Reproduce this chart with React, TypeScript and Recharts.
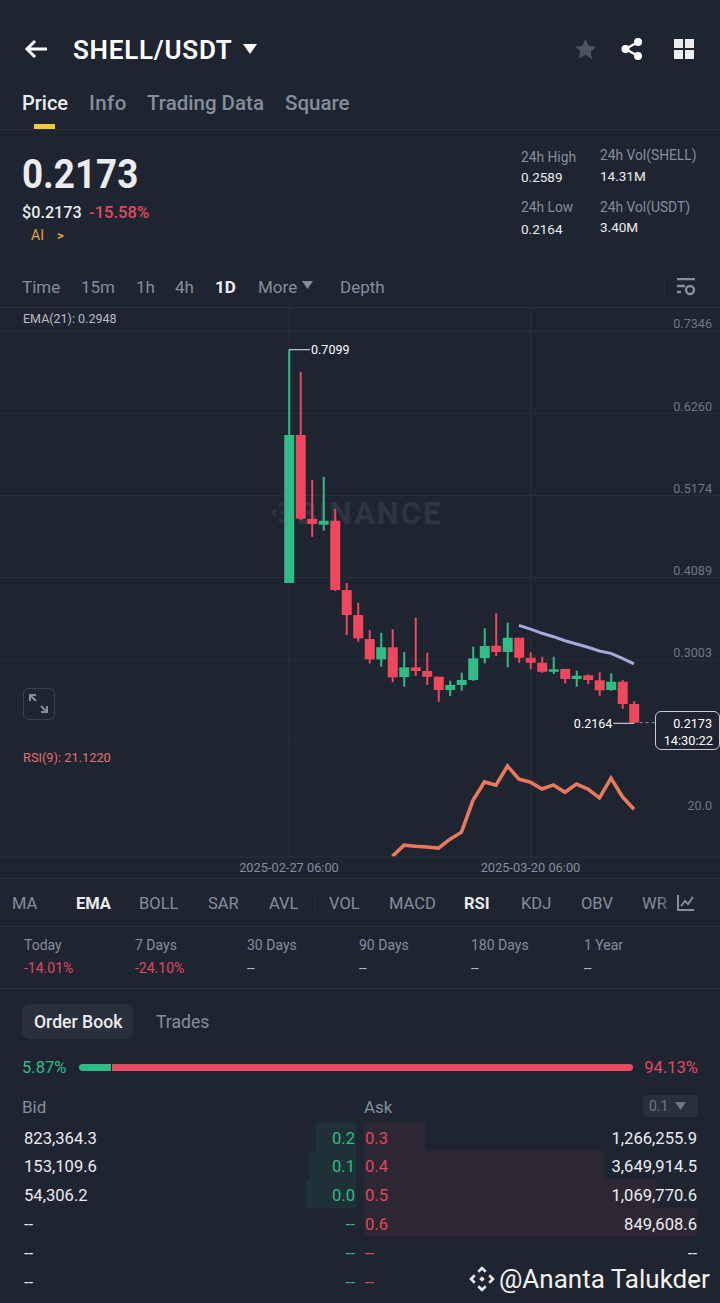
import { Bar, CartesianGrid, Cell, ComposedChart, Line, LineChart, ReferenceLine, XAxis, YAxis } from "recharts";
import type { CSSProperties, ReactNode } from "react";

const dates = [
  "2025-02-27 06:00", "2025-02-28 06:00", "2025-03-01 06:00", "2025-03-02 06:00", "2025-03-03 06:00", "2025-03-04 06:00",
  "2025-03-05 06:00", "2025-03-06 06:00", "2025-03-07 06:00", "2025-03-08 06:00", "2025-03-09 06:00", "2025-03-10 06:00",
  "2025-03-11 06:00", "2025-03-12 06:00", "2025-03-13 06:00", "2025-03-14 06:00", "2025-03-15 06:00", "2025-03-16 06:00",
  "2025-03-17 06:00", "2025-03-18 06:00", "2025-03-19 06:00", "2025-03-20 06:00", "2025-03-21 06:00", "2025-03-22 06:00",
  "2025-03-23 06:00", "2025-03-24 06:00", "2025-03-25 06:00", "2025-03-26 06:00", "2025-03-27 06:00", "2025-03-28 06:00",
  "2025-03-29 06:00",
];
const opens = [
  0.4017, 0.5972, 0.4866, 0.4787, 0.484, 0.3925, 0.3594, 0.3277, 0.3009, 0.3168, 0.2775, 0.2903, 0.2855, 0.2779, 0.2604, 0.267,
  0.2736, 0.3026, 0.3189, 0.3106, 0.3294, 0.303, 0.2964, 0.2845, 0.2881, 0.2749, 0.2798, 0.2732, 0.2604, 0.2713, 0.2419,
];
const highs = [
  0.7099, 0.6808, 0.5378, 0.5421, 0.4995, 0.4017, 0.3757, 0.3396, 0.3361, 0.3405, 0.3106, 0.3559, 0.3096, 0.2779, 0.2726, 0.2832,
  0.3176, 0.3419, 0.3617, 0.3493, 0.3294, 0.3102, 0.3043, 0.3043, 0.2881, 0.2859, 0.2811, 0.2837, 0.2824, 0.2736, 0.2458,
];
const lows = [
  0.4017, 0.4849, 0.4625, 0.4708, 0.3911, 0.333, 0.3242, 0.2956, 0.2911, 0.2705, 0.2647, 0.2789, 0.267, 0.2449, 0.2524, 0.2594,
  0.2726, 0.2956, 0.3053, 0.2903, 0.2964, 0.2877, 0.2832, 0.2815, 0.2692, 0.2647, 0.2683, 0.2528, 0.2594, 0.2357, 0.2164,
];
const closes = [
  0.5972, 0.4866, 0.4796, 0.484, 0.3925, 0.3594, 0.3287, 0.3009, 0.3168, 0.2771, 0.2903, 0.2855, 0.2779, 0.2604, 0.267, 0.2736,
  0.3022, 0.3185, 0.3106, 0.3294, 0.303, 0.2964, 0.2845, 0.2877, 0.2749, 0.2792, 0.2736, 0.26, 0.2713, 0.2419, 0.2173,
];
// EMA only shows on the last candles
const emaValues = [0.3458, 0.3409, 0.3353, 0.3308, 0.3255, 0.3211, 0.3168, 0.3119, 0.3088, 0.3022, 0.2948];
const emaStart = 20;
const rsiValues = [
  3.7, 7.8, 7.4, 7.1, 6.7, 10, 12.6, 24.4, 31.2, 30, 37.1, 32.2, 31.1, 28.6, 30.1, 27.4, 30.4, 28.6, 25.3, 32.6, 25.7, 21.12,
];
const rsiStart = 9;

const priceTicks = [0.7346, 0.626, 0.5174, 0.4089, 0.3003];
const priceGrid = [0.7346, 0.626, 0.5174, 0.4089, 0.3003, 0.1917];
const dateTicks = [0, 21];
const rsiTicks = [20];

const bidQty = ["823,364.3", "153,109.6", "54,306.2", "--", "--", "--"];
const bidPrice = ["0.2", "0.1", "0.0", "--", "--", "--"];
const askPrice = ["0.3", "0.4", "0.5", "0.6", "--", "--"];
const askQty = ["1,266,255.9", "3,649,914.5", "1,069,770.6", "849,608.6", "--", "--"];
const bidDepth = [40, 47, 50];
const askDepth = [61, 240, 292, 333];
const perfLabels = ["Today", "7 Days", "30 Days", "90 Days", "180 Days", "1 Year"];
const perfValues = ["-14.01%", "-24.10%", "--", "--", "--", "--"];
const indicators = ["MA", "EMA", "BOLL", "SAR", "AVL", "VOL", "MACD", "RSI", "KDJ", "OBV", "WR"];
const indicatorX = [12, 76, 139, 208, 269, 329, 389, 464, 521, 581, 642];
const intervals = ["Time", "15m", "1h", "4h", "1D", "More"];
const intervalX = [22, 81, 136, 175, 215, 258];

const BG = "#1e2530";
const GREEN = "#2ebd85";
const RED = "#f0475f";
const GRAY = "#848e9c";
const WHITE = "#eaecef";
const LINE = "#2a303a";
const FONT = "Roboto, sans-serif";
const xDomain: [number, number] = [-25.13, 37.48];

const candles = dates.map((date, i) => ({
  i,
  date,
  wick: [lows[i], highs[i]],
  body: [Math.min(opens[i], closes[i]), Math.max(opens[i], closes[i])],
  up: closes[i] >= opens[i],
  ema: i >= emaStart ? emaValues[i - emaStart] : null,
}));
const rsiData = dates.map((date, i) => ({
  i,
  rsi: i >= rsiStart ? rsiValues[i - rsiStart] : null,
}));

const T = ({ x, y, size = 14, color = GRAY, weight = 400, right, style, children }: {
  x?: number; y: number; size?: number; color?: string; weight?: number; right?: number; style?: CSSProperties; children: ReactNode;
}) => (
  <div
    style={{
      position: "absolute",
      left: x,
      right: right !== undefined ? 720 - right : undefined,
      top: y,
      transform: "translateY(-50%)",
      fontSize: size,
      color,
      fontWeight: weight,
      whiteSpace: "nowrap",
      lineHeight: 1,
      ...style,
    }}
  >
    {children}
  </div>
);

const Box = ({ x, y, w, h, color, style }: { x: number; y: number; w: number; h: number; color?: string; style?: CSSProperties }) => (
  <div style={{ position: "absolute", left: x, top: y, width: w, height: h, background: color, ...style }} />
);

const Icon = ({ x, y, w, h, vb, children }: { x: number; y: number; w: number; h: number; vb: string; children: ReactNode }) => (
  <svg style={{ position: "absolute", left: x, top: y }} width={w} height={h} viewBox={vb}>
    {children}
  </svg>
);

const Logo = ({ x, y, s, color }: { x: number; y: number; s: number; color: string }) => (
  <Icon x={x} y={y} w={s} h={s} vb="0 0 24 24">
    <path fill={color} d="M12 1l4 4-1.6 1.6L12 4.2 9.6 6.6 8 5l4-4zM5 8l1.6 1.6L4.2 12l2.4 2.4L5 16l-4-4 4-4zm14 0l4 4-4 4-1.6-1.6 2.4-2.4-2.4-2.4L19 8zm-7 1.6L14.4 12 12 14.4 9.6 12 12 9.6zM8 19l1.6-1.6 2.4 2.4 2.4-2.4L16 19l-4 4-4-4z" />
  </Icon>
);

export default function App() {
  return (
    <div style={{ position: "absolute", left: 0, top: 0, width: 720, height: 1303, background: BG, overflow: "hidden", fontFamily: FONT }}>
      {/* header */}
      <Icon x={24} y={38} w={24} h={22} vb="0 0 24 22">
        <path d="M11 3L3 11l8 8M3 11h20" fill="none" stroke="#fff" strokeWidth={3} />
      </Icon>
      <T x={73} y={50} size={26} color="#fff" weight={600} style={{ letterSpacing: 0.75 }}>SHELL/USDT</T>
      <Icon x={243} y={44} w={14} h={10} vb="0 0 14 10">
        <path d="M0 0h14L7 10z" fill="#fff" />
      </Icon>
      <Icon x={574} y={38} w={23} h={23} vb="0 0 24 24">
        <path d="M12 1l3.4 7.2 7.6 1-5.5 5.3 1.4 7.8L12 17.6l-6.9 3.7 1.4-7.8L1 9.2l7.6-1z" fill="#4b5361" />
      </Icon>
      <Icon x={621} y={38} w={22} h={22} vb="0 0 22 22">
        <circle cx="4.5" cy="11" r="4" fill="#fff" />
        <circle cx="17" cy="4" r="4" fill="#fff" />
        <circle cx="17" cy="18" r="4" fill="#fff" />
        <path d="M4.5 11L17 4M4.5 11L17 18" stroke="#fff" strokeWidth={2.5} />
      </Icon>
      <Icon x={674} y={39} w={20} h={20} vb="0 0 20 20">
        <path d="M0 0h9v9H0zM11 0h9v9h-9zM0 11h9v9H0zM11 11h9v9h-9z" fill="#eaecef" />
      </Icon>

      {/* tabs */}
      <T x={22} y={103} size={20} color={WHITE} weight={500}>Price</T>
      <T x={89} y={103} size={20.5} weight={500} style={{ letterSpacing: 0.4 }}>Info</T>
      <T x={147} y={103} size={20.5} weight={500}>Trading Data</T>
      <T x={285} y={103} size={20.5} weight={500}>Square</T>
      <Box x={34} y={124} w={21} h={5} color="#f0c93c" />
      <Box x={0} y={129} w={720} h={1} color={LINE} />

      {/* ticker */}
      <T x={22} y={175} size={40} color={WHITE} weight={700} style={{ transform: "translateY(-50%) scaleX(0.92)", transformOrigin: "left center" }}>0.2173</T>
      <T x={22} y={213} size={16.2} color={WHITE} weight={500}>$0.2173</T>
      <T x={89} y={213} size={16.6} color="#e0485f" weight={500}>-15.58%</T>
      <T x={31} y={235} size={14} color="#e5a23a">AI</T>
      <T x={57} y={235} size={13} color="#e5a23a" weight={700}>&gt;</T>
      <T x={521} y={158} size={13.8}>24h High</T>
      <T x={521} y={178} size={13.5} color={WHITE}>0.2589</T>
      <T x={521} y={208} size={13.8}>24h Low</T>
      <T x={521} y={230} size={13.5} color={WHITE}>0.2164</T>
      <T x={600} y={156} size={13.8}>24h Vol(SHELL)</T>
      <T x={600} y={177} size={13.5} color={WHITE}>14.31M</T>
      <T x={600} y={208} size={13.8}>24h Vol(USDT)</T>
      <T x={600} y={228} size={13.5} color={WHITE}>3.40M</T>

      {/* interval row */}
      {intervals.map((label, i) => (
        <T key={label} x={intervalX[i]} y={287} size={17} color={label === "1D" ? WHITE : GRAY} weight={label === "1D" ? 700 : 400}>{label}</T>
      ))}
      <Icon x={302} y={281} w={11} h={8} vb="0 0 11 8">
        <path d="M0 0h11L5.5 8z" fill={GRAY} />
      </Icon>
      <T x={340} y={287} size={17}>Depth</T>
      <Box x={664} y={278} w={1} h={18} color={LINE} />
      <Icon x={676} y={278} w={20} h={18} vb="0 0 20 18">
        <path d="M1 1h18M1 8h8M1 14h4" stroke={GRAY} strokeWidth={2.5} fill="none" />
        <circle cx="14" cy="12" r="4" stroke={GRAY} strokeWidth={2.5} fill="none" />
      </Icon>
      <Box x={0} y={307} w={720} h={1} color={LINE} />

      {/* watermark behind the candles */}
      <Logo x={270} y={501} s={24} color="#2e3540" />
      <T x={297} y={513} size={31} color="#2e3540" weight={700} style={{ letterSpacing: 2 }}>BINANCE</T>

      {/* price panel */}
      <div style={{ position: "absolute", left: 0, top: 308 }}>
        <ComposedChart width={720} height={434} data={candles} margin={{ top: 0, right: 0, bottom: 0, left: 0 }} barGap={0}>
          <XAxis xAxisId="wick" dataKey="i" type="number" domain={xDomain} allowDataOverflow hide />
          <XAxis xAxisId="body" dataKey="i" type="number" domain={xDomain} allowDataOverflow hide />
          <YAxis
            domain={[0.1917, 0.765]}
            ticks={priceTicks}
            orientation="right"
            mirror
            allowDataOverflow
            axisLine={false}
            tickLine={false}
            tickFormatter={(v: number) => v.toFixed(4)}
            tick={{ fill: "#6f7784", fontSize: 12.6, dy: -7, dx: 0, fontFamily: FONT }}
          />
          <CartesianGrid xAxisId="body" stroke={LINE} horizontalValues={priceGrid} verticalValues={dateTicks} />
          <Bar xAxisId="wick" dataKey="wick" barSize={2} isAnimationActive={false}>
            {candles.map((c) => <Cell key={c.i} fill={c.up ? GREEN : RED} />)}
          </Bar>
          <Bar xAxisId="body" dataKey="body" barSize={10} isAnimationActive={false}>
            {candles.map((c) => <Cell key={c.i} fill={c.up ? GREEN : RED} />)}
          </Bar>
          <Line xAxisId="body" dataKey="ema" stroke="#a8a8d8" strokeWidth={3} dot={false} isAnimationActive={false} />
          <ReferenceLine
            xAxisId="body"
            segment={[{ x: 0, y: 0.7099 }, { x: 1.83, y: 0.7099 }]}
            stroke="#e6e8ea"
            label={{ value: "0.7099", position: "right", offset: 1, fill: "#fff", fontSize: 12.5, fontFamily: FONT }}
          />
          <ReferenceLine
            xAxisId="body"
            segment={[{ x: 28.2, y: 0.2164 }, { x: 30, y: 0.2164 }]}
            stroke="#e6e8ea"
            label={{ value: "0.2164", position: "left", offset: 1, fill: "#fff", fontSize: 12.5, fontFamily: FONT }}
          />
          <ReferenceLine
            xAxisId="body"
            segment={[{ x: 30.5, y: 0.2173 }, { x: 31.9, y: 0.2173 }]}
            stroke="#8b919b"
            strokeDasharray="3 3"
          />
        </ComposedChart>
      </div>

      <T x={23} y={319} size={12.5} color="#b7bdc6">EMA(21): 0.2948</T>
      <Box x={23} y={688} w={30} h={30} style={{ border: "1px solid #3a414c", borderRadius: 6 }} />
      <Icon x={28} y={693} w={21} h={21} vb="0 0 21 21">
        <path d="M2 8V2h6M2 2l6 6M19 13v6h-6M19 19l-6-6" stroke={GRAY} strokeWidth={2} fill="none" />
      </Icon>

      {/* last price badge */}
      <Box x={655} y={711} w={63} h={37} color={BG} style={{ border: "1px solid #c8ccd2", borderRadius: 6 }} />
      <T right={712} y={724} size={12.6} color="#fff">0.2173</T>
      <T right={713} y={741} size={12.8} color="#fff">14:30:22</T>

      {/* RSI panel */}
      <div style={{ position: "absolute", left: 0, top: 742 }}>
        <LineChart width={720} height={136} data={rsiData} margin={{ top: 0, right: 0, bottom: 0, left: 0 }}>
          <XAxis
            dataKey="i"
            type="number"
            domain={xDomain}
            allowDataOverflow
            ticks={dateTicks}
            height={21}
            interval={0}
            axisLine={{ stroke: LINE }}
            tickLine={false}
            tickMargin={0}
            tickFormatter={(v: number) => dates[v]}
            tick={{ fill: GRAY, fontSize: 12.8, fontFamily: FONT }}
          />
          <YAxis
            domain={[3.4, 46]}
            ticks={rsiTicks}
            orientation="right"
            mirror
            allowDataOverflow
            axisLine={false}
            tickLine={false}
            tickFormatter={(v: number) => v.toFixed(1)}
            tick={{ fill: "#6f7784", fontSize: 12.6, dy: -7, dx: 0, fontFamily: FONT }}
          />
          <CartesianGrid stroke={LINE} horizontal={false} verticalValues={dateTicks} />
          <Line dataKey="rsi" stroke="#e8795a" strokeWidth={3.6} dot={false} isAnimationActive={false} />
        </LineChart>
      </div>
      <T x={23} y={758} size={12.8} color="#e2716a">RSI(9): 21.1220</T>
      <Box x={0} y={878} w={720} h={1} color={LINE} />

      {/* indicator row */}
      {indicators.map((label, i) => {
        const on = label === "EMA" || label === "RSI";
        return (
          <T key={label} x={indicatorX[i]} y={904} size={16.5} color={on ? WHITE : GRAY} weight={on ? 700 : 400}>{label}</T>
        );
      })}
      <Box x={315} y={895} w={1} h={18} color={LINE} />
      <Box x={660} y={885} w={16} h={36} style={{ background: `linear-gradient(90deg, transparent, ${BG})` }} />
      <Box x={668} y={885} w={52} h={36} color={BG} />
      <Icon x={677} y={894} w={18} h={17} vb="0 0 18 17">
        <path d="M1 1v15h16M4 12l4-5 3 3 5-7" stroke={GRAY} strokeWidth={2} fill="none" />
      </Icon>
      <Box x={0} y={926} w={720} h={1} color={LINE} />

      {/* performance row */}
      {perfLabels.map((label, i) => (
        <T key={label} x={[24, 135, 247, 359, 471, 584][i]} y={945} size={14}>{label}</T>
      ))}
      {perfValues.map((value, i) => (
        <T key={i} x={[24, 135, 247, 359, 471, 584][i]} y={968} size={14} color={value === "--" ? "#b7bdc6" : "#e0485f"}>{value}</T>
      ))}
      <Box x={0} y={988} w={720} h={1} color={LINE} />

      {/* order book */}
      <Box x={22} y={1004} w={111} h={35} color="#2a303b" style={{ borderRadius: 8 }} />
      <T x={34} y={1023} size={17.6} color={WHITE} weight={500}>Order Book</T>
      <T x={156} y={1023} size={17.6}>Trades</T>
      <T x={22} y={1068} size={16.6} color={GREEN}>5.87%</T>
      <Box x={79} y={1064} w={32} h={7} color={GREEN} style={{ borderRadius: "4px 0 0 4px" }} />
      <Box x={112} y={1064} w={521} h={7} color="#ea4a60" style={{ borderRadius: "0 4px 4px 0" }} />
      <T right={698} y={1068} size={16.6} color="#e0485f">94.13%</T>
      <T x={22} y={1107} size={17}>Bid</T>
      <T x={364} y={1107} size={17}>Ask</T>
      <Box x={643} y={1095} w={55} h={22} color="#2a303b" style={{ borderRadius: 4 }} />
      <T x={649} y={1106} size={14} color="#6f7784">0.1</T>
      <Icon x={675} y={1102} w={11} h={8} vb="0 0 11 8">
        <path d="M0 0h11L5.5 8z" fill="#6f7784" />
      </Icon>

      {bidDepth.map((w, i) => (
        <Box key={i} x={356 - w} y={1122 + i * 28.6} w={w} h={28.6} color="rgba(46,189,133,0.08)" />
      ))}
      {askDepth.map((w, i) => (
        <Box key={i} x={364} y={1122 + i * 28.6} w={w} h={28.6} color="rgba(240,71,95,0.075)" />
      ))}
      {bidQty.map((q, i) => (
        <T key={i} x={24} y={1138.5 + i * 28.8} size={16.6} color={WHITE}>{q}</T>
      ))}
      {bidPrice.map((p, i) => (
        <T key={i} right={355} y={1138.5 + i * 28.8} size={16.6} color={GREEN}>{p}</T>
      ))}
      {askPrice.map((p, i) => (
        <T key={i} x={365} y={1138.5 + i * 28.8} size={16.6} color="#e0485f">{p}</T>
      ))}
      {askQty.map((q, i) => (
        <T key={i} right={697} y={1138.5 + i * 28.8} size={16.6} color={WHITE}>{q}</T>
      ))}

      {/* image credit */}
      <Logo x={468} y={1265} s={28} color="#e8e8e8" />
      <T x={499} y={1279} size={26} color="#f2f2f2">@Ananta Talukder</T>
    </div>
  );
}
